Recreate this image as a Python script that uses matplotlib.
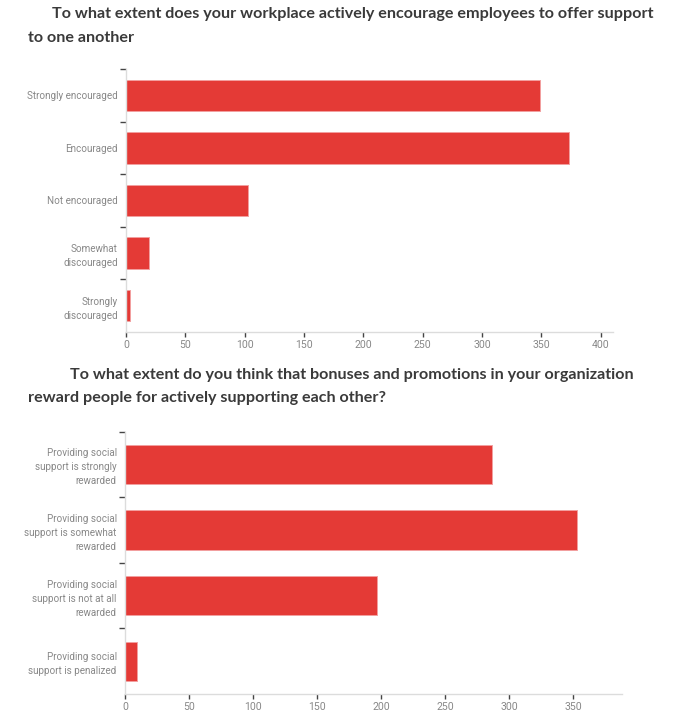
"""
Two survey bar charts on workplace support
"""
import numpy as np
import matplotlib
matplotlib.use('Agg')
import matplotlib.pyplot as plt

# Data
title1 = ['To what extent does your workplace actively encourage employees to offer support',
          'to one another']
cats1 = ['Strongly encouraged', 'Encouraged', 'Not encouraged',
         'Somewhat\ndiscouraged', 'Strongly\ndiscouraged']
vals1 = [349, 373, 103, 19, 3]
xticks1 = [0, 50, 100, 150, 200, 250, 300, 350, 400]

title2 = ['To what extent do you think that bonuses and promotions in your organization',
          'reward people for actively supporting each other?']
cats2 = ['Providing social\nsupport is strongly\nrewarded',
         'Providing social\nsupport is somewhat\nrewarded',
         'Providing social\nsupport is not at all\nrewarded',
         'Providing social\nsupport is penalized']
vals2 = [287, 353, 197, 9]
xticks2 = [0, 50, 100, 150, 200, 250, 300, 350]

W, H = 686, 712
BAR = '#e43a36'
EDGE = '#f3a0a0'
LABEL = '#888888'
TITLE = '#3a3a3a'

fig = plt.figure(figsize=(W / 100, H / 100), dpi=100)


def px(x, y):
    # pixel coords -> figure fraction
    return x / W, 1 - y / H


def bar_panel(rect, cats, vals, xticks, xmax):
    l, r, t, b = rect
    ax = fig.add_axes([l / W, 1 - b / H, (r - l) / W, (b - t) / H])
    n = len(cats)
    y = np.arange(n)
    ax.barh(y, vals, height=0.6, color=BAR, edgecolor=EDGE, linewidth=0.7)
    ax.set_ylim(n - 0.5, -0.5)
    ax.set_xlim(0, xmax)

    # tick marks between categories, labels at centres
    ax.set_yticks(np.arange(n) - 0.5)
    ax.set_yticklabels([])
    ax.set_yticks(y, minor=True)
    ax.set_yticklabels(cats, minor=True, fontfamily='Roboto', fontsize=7.1,
                       color=LABEL, linespacing=1.5)
    ax.tick_params(axis='y', which='major', length=4, width=1, color='#444444',
                   direction='out')
    ax.tick_params(axis='y', which='minor', length=0, pad=6)

    ax.set_xticks(xticks)
    ax.set_xticklabels([str(v) for v in xticks], fontfamily='Roboto',
                       fontsize=7.6, color=LABEL)
    ax.tick_params(axis='x', length=3.5, width=1, color='#444444', pad=2.5)

    for s in ['top', 'right']:
        ax.spines[s].set_visible(False)
    for s in ['left', 'bottom']:
        ax.spines[s].set_color('#dcdcdc')
        ax.spines[s].set_linewidth(1)
    return ax


bar_panel((126, 613, 69, 332), cats1, vals1, xticks1, 410.5)
bar_panel((125, 621.5, 431.5, 694), cats2, vals2, xticks2, 387.8)

# Titles
tkw = dict(fontfamily='Lato', fontweight='bold', fontsize=11.6, color=TITLE,
           va='center', ha='left')
fig.text(*px(52, 14), title1[0], **tkw)
fig.text(*px(28, 38), title1[1], **tkw)
fig.text(*px(70, 375), title2[0], **tkw)
fig.text(*px(28, 398), title2[1], **tkw)

fig.savefig('out.png', dpi=100, facecolor='white')
